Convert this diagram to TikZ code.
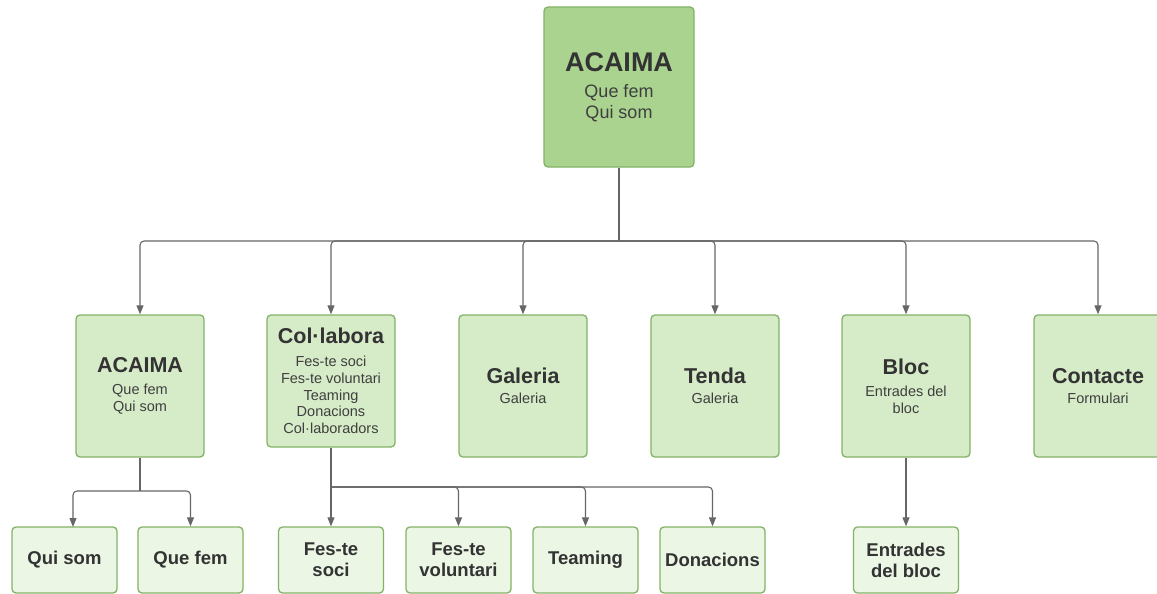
\documentclass[tikz,border=0pt]{standalone}
\usepackage{fontspec}
\setmainfont{Liberation Sans}
\usetikzlibrary{arrows.meta}
\definecolor{topfill}{HTML}{A9D38F}
\definecolor{midfill}{HTML}{D6EBC7}
\definecolor{lowfill}{HTML}{EBF6E4}
\definecolor{edgegreen}{HTML}{82B366}
\definecolor{linegray}{HTML}{666666}
\definecolor{txt}{HTML}{333333}
\definecolor{subtxt}{HTML}{3F3F3F}
\newcommand{\ttlA}[1]{{\fontsize{27}{27}\selectfont\bfseries\color{txt}#1}}
\newcommand{\ttlB}[1]{{\fontsize{21.5}{22}\selectfont\bfseries\color{txt}#1}}
\tikzset{
  basebox/.style={draw=edgegreen, line width=1.3pt, rounded corners=4pt, align=center, inner sep=2pt},
  rootbox/.style={basebox, fill=topfill, minimum width=150pt, minimum height=160pt,
    font=\fontsize{18}{21}\selectfont, text=subtxt},
  midbox/.style={basebox, fill=midfill, minimum width=128pt, minimum height=142pt,
    font=\fontsize{14.5}{16.8}\selectfont, text=subtxt},
  lowbox/.style={basebox, fill=lowfill, minimum width=105pt, minimum height=66pt,
    font=\fontsize{18.5}{21}\selectfont\bfseries, text=txt},
  conn/.style={draw=linegray, line width=1.1pt, rounded corners=4pt},
  arr/.style={conn, -{Triangle[length=9pt,width=7pt]}}
}
\begin{document}
\begin{tikzpicture}[x=1pt,y=-1pt]
\useasboundingbox (0,0) rectangle (1157,594);
% root
\node[rootbox] (root) at (619,87) {\ttlA{ACAIMA}\\[5pt] Que fem\\ Qui som};
% row 2
\node[midbox] (acaima) at (140,386) {\ttlB{ACAIMA}\\[5pt] Que fem\\ Qui som};
\node[midbox, minimum height=132pt] (colab) at (331,381) {\ttlB{Col·labora}\\[6pt] Fes-te soci\\ Fes-te voluntari\\ Teaming\\ Donacions\\ Col·laboradors};
\node[midbox] (galeria) at (523,386) {\ttlB{Galeria}\\[3pt] Galeria};
\node[midbox] (tenda) at (715,386) {\ttlB{Tenda}\\[3pt] Galeria};
\node[midbox] (bloc) at (906,386) {\ttlB{Bloc}\\[5pt] Entrades del\\ bloc};
\node[midbox] (contacte) at (1098,386) {\ttlB{Contacte}\\[3pt] Formulari};
% row 3
\node[lowbox] (quisom) at (64.5,560) {Qui som};
\node[lowbox] (quefem) at (190.5,560) {Que fem};
\node[lowbox] (soci) at (331,560) {Fes-te\\ soci};
\node[lowbox] (volunt) at (458.5,560) {Fes-te\\ voluntari};
\node[lowbox] (teaming) at (585.5,560) {Teaming};
\node[lowbox] (donac) at (712.5,560) {Donacions};
\node[lowbox] (entrades) at (906,560) {Entrades\\ del bloc};
% connector helpers
\coordinate (busA) at (619,241);
\coordinate (busB) at (140,491);
\coordinate (busC) at (331,487);
\coordinate (qtop) at (73,527);
% root to row 2
\draw[conn] (root.south) -- (busA);
\foreach \n in {acaima,colab,galeria,tenda,bloc,contacte}{
  \draw[arr] (busA) -| (\n.north);
}
% ACAIMA children
\draw[conn] (acaima.south) -- (busB);
\draw[arr] (busB) -| (qtop);
\draw[arr] (busB) -| (quefem.north);
% Col·labora children
\draw[arr] (colab.south) -- (soci.north);
\foreach \n in {volunt,teaming,donac}{
  \draw[arr] (busC) -| (\n.north);
}
% Bloc child
\draw[arr] (bloc.south) -- (entrades.north);
\end{tikzpicture}
\end{document}
